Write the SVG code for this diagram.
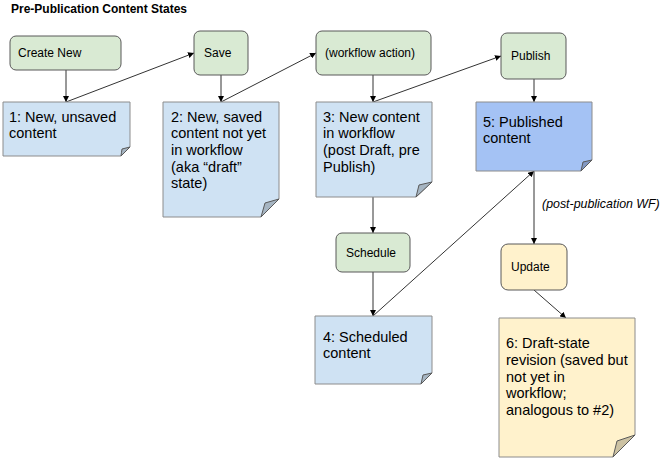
<svg xmlns="http://www.w3.org/2000/svg" width="670" height="465" viewBox="0 0 670 465">
<style>
text{font-family:"Liberation Sans",Arial,sans-serif;fill:#000}
.title{font-size:12px;font-weight:bold}
.act{font-size:12px}
.note{font-size:14.5px}
.lbl{font-size:12.4px;font-style:italic}
.green{fill:#d9ead3;stroke:#595959;stroke-width:1}
.yellow{fill:#fff2cc;stroke:#595959;stroke-width:1}
.nb{fill:#cfe2f3;stroke:#8c8c8c;stroke-width:1}
.nb2{fill:#a4c2f4;stroke:#8c8c8c;stroke-width:1}
.ny{fill:#fff2cc;stroke:#8c8c8c;stroke-width:1}
.fb{fill:#a6b5c2;stroke:#595959;stroke-width:1}
.fy{fill:#ccc2a3;stroke:#595959;stroke-width:1}
.fb2{fill:#8399c3;stroke:#595959;stroke-width:1}
.c{fill:none;stroke:#333;stroke-width:1;marker-end:url(#ah)}
</style>
<defs>
<marker id="ah" viewBox="0 0 10 10" refX="10" refY="5" markerWidth="6" markerHeight="6" orient="auto" markerUnits="userSpaceOnUse">
<path d="M0,0 L10,5 L0,10 Z" fill="#000"/>
</marker>
</defs>
<rect width="670" height="465" fill="#fff"/>
<text class="title" x="11" y="13">Pre-Publication Content States</text>

<g id="connectors">
<line class="c" x1="66" y1="70" x2="66" y2="102"/>
<line class="c" x1="66" y1="102" x2="194" y2="53"/>
<line class="c" x1="221" y1="75" x2="221" y2="102"/>
<line class="c" x1="221" y1="102" x2="316" y2="53"/>
<line class="c" x1="373" y1="75" x2="373" y2="102"/>
<line class="c" x1="373" y1="102" x2="501" y2="56"/>
<line class="c" x1="534" y1="79" x2="534" y2="102"/>
<line class="c" x1="373" y1="197" x2="373" y2="233"/>
<line class="c" x1="373" y1="272" x2="373" y2="316"/>
<line class="c" x1="373" y1="316" x2="534" y2="171"/>
<line class="c" x1="534" y1="171" x2="534" y2="244"/>
<line class="c" x1="534" y1="290" x2="566" y2="318"/>
<text class="lbl" x="542" y="208">(post-publication WF)</text>
</g>

<g id="create-new">
<rect class="green" x="10" y="36" width="111" height="34" rx="6"/>
<text class="act" x="18" y="57">Create New</text>
</g>
<g id="save">
<rect class="green" x="194" y="31" width="54" height="44" rx="6"/>
<text class="act" x="204" y="57">Save</text>
</g>
<g id="workflow-action">
<rect class="green" x="316" y="31" width="115" height="44" rx="6"/>
<text class="act" x="325" y="57">(workflow action)</text>
</g>
<g id="publish">
<rect class="green" x="501" y="33" width="65" height="46" rx="6"/>
<text class="act" x="511" y="60">Publish</text>
</g>
<g id="schedule">
<rect class="green" x="336" y="233" width="74" height="39" rx="6"/>
<text class="act" x="346" y="257">Schedule</text>
</g>
<g id="update">
<rect class="yellow" x="501" y="244" width="66" height="46" rx="7"/>
<text class="act" x="511" y="271">Update</text>
</g>

<g id="note1">
<path class="nb" d="M3,102 H130 V147 L121,156 H3 Z"/>
<path class="fb" d="M130,147 L122,149 Q121.5,152 121,156 Z"/>
<text class="note" x="9" y="122">1: New, unsaved</text>
<text class="note" x="9" y="138">content</text>
</g>
<g id="note2">
<path class="nb" d="M163,102 H279 V199 L261,217 H163 Z"/>
<path class="fb" d="M279,199 L265,203 Q263,210 261,217 Z"/>
<text class="note" x="171" y="122">2: New, saved</text>
<text class="note" x="171" y="138">content not yet</text>
<text class="note" x="171" y="155">in workflow</text>
<text class="note" x="171" y="172">(aka “draft”</text>
<text class="note" x="171" y="188">state)</text>
</g>
<g id="note3">
<path class="nb" d="M316,102 H432 V182 L416,197 H316 Z"/>
<path class="fb" d="M432,182 L419,185 Q417.5,191 416,197 Z"/>
<text class="note" x="323" y="122">3: New content</text>
<text class="note" x="323" y="138">in workflow</text>
<text class="note" x="323" y="155">(post Draft, pre</text>
<text class="note" x="323" y="172">Publish)</text>
</g>
<g id="note5">
<path class="nb2" d="M476,102 H592 V160 L581,171 H476 Z"/>
<path class="fb2" d="M592,160 L583,162 Q582,166.5 581,171 Z"/>
<text class="note" x="483" y="127">5: Published</text>
<text class="note" x="483" y="143">content</text>
</g>
<g id="note4">
<path class="nb" d="M315,316 H432 V373 L421,384 H315 Z"/>
<path class="fb" d="M432,373 L423,375 Q422,379.5 421,384 Z"/>
<text class="note" x="323" y="342">4: Scheduled</text>
<text class="note" x="323" y="358">content</text>
</g>
<g id="note6">
<path class="ny" d="M499,318 H635 V435 L613,457 H499 Z"/>
<path class="fy" d="M635,435 L617,441 Q615,449 613,457 Z"/>
<text class="note" x="506" y="348">6: Draft-state</text>
<text class="note" x="506" y="365">revision (saved but</text>
<text class="note" x="506" y="382">not yet in</text>
<text class="note" x="506" y="398">workflow;</text>
<text class="note" x="506" y="415">analogous to #2)</text>
</g>
</svg>
